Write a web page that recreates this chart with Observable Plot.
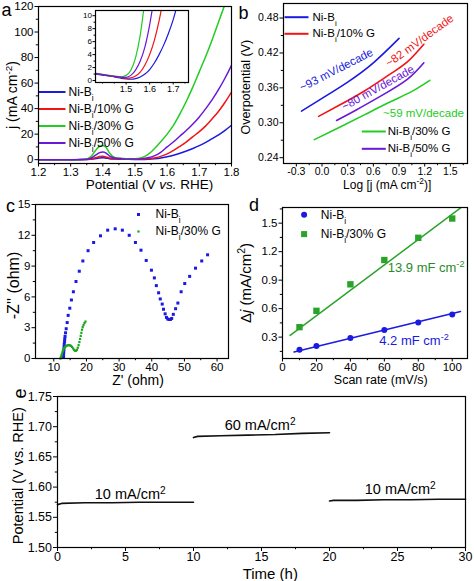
<!DOCTYPE html>
<html><head><meta charset="utf-8">
<script src="https://cdn.jsdelivr.net/npm/d3@7"></script>
<script src="https://cdn.jsdelivr.net/npm/@observablehq/plot@0.6"></script>
<style>
html,body{margin:0;padding:0;background:#fff;}
#fig{position:relative;width:474px;height:581px;overflow:hidden;background:#fff;}
</style></head><body><div id="fig"></div>
<script>
// ---------------- data ----------------
const seriesNames = ["Ni-B{_i}", "Ni-B{_i}/10% G", "Ni-B{_i}/30% G", "Ni-B{_i}/50% G"];
const blue = "#1a1ae0", red = "#f01414", green = "#22cc22", purple = "#6a18d8";
const greenC = "#1fa51f", greenD = "#2aa32a", greenDText = "#2a8a2a";

// (a) LSV curves
const lsvV    = [1.20,1.25,1.30,1.34,1.36,1.38,1.39,1.40,1.41,1.42,1.44,1.46,1.48,1.50,1.52,1.54,1.56,1.58,1.60,1.62,1.64,1.66,1.68,1.70,1.72,1.74,1.76,1.78,1.80];
const lsvNiBi = [0,0,0,0.05,0.3,0.9,1.3,1.5,1.2,0.8,0.5,0.35,0.25,0.2,0.2,0.35,0.7,1.3,2.3,3.5,5.0,6.8,8.8,11.0,13.5,16.5,19.5,23.0,27.0];
const lsv10   = [0,0,0,0.05,0.4,1.7,2.4,2.6,2.1,1.3,0.7,0.5,0.4,0.35,0.4,0.7,1.3,2.6,4.5,7.2,10.5,14.0,18.0,22.0,26.5,32.0,38.0,45.0,53.0];
const lsv30   = [0,0,0,0.2,1.8,8.0,10.5,11.2,9.8,5.5,1.5,1.0,0.7,0.8,1.6,4.0,8.5,14.0,20.0,27.0,36.0,46.0,57.0,69.0,81.0,94.0,108.0,122.0,null];
const lsv50   = [0,0,0,0.1,0.9,4.0,5.5,6.0,5.2,3.0,1.2,0.8,0.6,0.5,0.8,1.5,3.0,5.8,10.0,14.0,18.5,23.0,28.0,33.5,40.0,47.0,55.0,64.0,74.0];
const aXTicks = [1.2,1.3,1.4,1.5,1.6,1.7,1.8], aXMinor = [1.25,1.35,1.45,1.55,1.65,1.75];
const aYTicks = [0,20,40,60,80,100,120], aYMinor = [10,30,50,70,90,110];

// (a) inset
const insetV    = [1.37,1.40,1.43,1.46,1.48,1.50,1.52,1.54,1.56,1.58,1.60,1.62,1.64,1.66,1.68,1.70,1.72];
const insetNiBi = [1.0,0.85,0.7,0.5,0.35,0.25,0.2,0.3,0.55,1.0,1.7,2.7,4.0,5.5,7.3,9.4,12.0];
const inset10   = [1.05,0.9,0.7,0.55,0.45,0.35,0.4,0.7,1.3,2.4,4.0,6.2,9.2,13.0,null,null,null];
const inset30   = [1.1,0.95,0.8,0.65,0.6,0.8,1.6,3.5,7.0,12.5,null,null,null,null,null,null,null];
const inset50   = [1.1,0.9,0.75,0.6,0.5,0.5,0.8,1.6,3.0,5.2,8.6,13.0,null,null,null,null,null];
const inXTicks = [1.5,1.6,1.7], inXMinor = [1.4,1.45,1.55,1.65,1.75];
const inYTicks = [0,2,4,6,8,10], inYMinor = [1,3,5,7,9];

// (b) Tafel
const tafelNiBiX = [-0.24,0.0,0.3,0.6,0.9],        tafelNiBiY = [0.320,0.342,0.370,0.403,0.445];
const tafel10X   = [-0.04,0.2,0.5,0.8,1.0,1.19],   tafel10Y   = [0.311,0.330,0.355,0.384,0.405,0.435];
const tafel30X   = [-0.09,0.2,0.5,0.8,1.05,1.26],  tafel30Y   = [0.271,0.292,0.314,0.336,0.354,0.373];
const tafel50X   = [0.17,0.4,0.7,1.0,1.19],        tafel50Y   = [0.304,0.322,0.347,0.375,0.403];
const slopeLabels = ["~93 mV/decade","~82 mV/decade","~80 mV/decade","~59 mV/decade"];
const slopeX = [0.167,1.141,0.654,1.186], slopeY = [0.391,0.441,0.360,0.317], slopeAngle = [-27,-36,-29,0];
const bXTicks = [-0.3,0.0,0.3,0.6,0.9,1.2,1.5], bXMinor = [-0.15,0.15,0.45,0.75,1.05,1.35,1.65];
const bYTicks = [0.24,0.30,0.36,0.42,0.48], bYMinor = [0.27,0.33,0.39,0.45];

// (c) Nyquist
const cNiBiX = [13.0,13.0,13.05,13.1,13.15,13.2,13.3,13.35,13.45,13.6,13.8,14.1,14.4,14.9,15.4,16.0,16.8,17.8,18.9,20.5,22.2,24.3,26.5,28.8,31.0,33.1,35.0,36.7,38.3,39.9,40.8,41.4,42.1,42.6,43.2,43.6,44.1,44.5,44.9,45.3,45.7,46.1,46.6,47.3,48.0,49.0,50.1,51.6,53.4,55.3,57.1];
const cNiBiY = [0.15,0.4,0.65,0.9,1.15,1.4,1.65,1.9,2.15,2.5,2.9,3.5,4.2,4.9,5.7,6.5,7.5,8.5,9.5,10.5,11.3,11.95,12.5,12.63,12.5,12.0,11.3,10.55,9.55,8.6,7.85,7.1,6.4,5.8,5.3,4.8,4.35,4.0,3.85,3.8,3.8,3.9,4.3,4.85,5.4,6.5,7.3,8.0,8.8,9.5,10.1];
const c30X = [12.05,12.2,12.35,12.5,12.65,12.8,13.0,13.2,13.5,13.8,14.1,14.4,14.7,15.0,15.3,15.6,15.9,16.2,16.5,16.8,17.1,17.35,17.6,17.85,18.05,18.25,18.45,18.65,18.85,19.1,19.4,19.7];
const c30Y = [0.0,0.15,0.3,0.45,0.6,0.75,0.9,1.02,1.13,1.22,1.27,1.3,1.3,1.28,1.22,1.12,0.98,0.85,0.75,0.75,0.85,1.05,1.3,1.6,1.9,2.2,2.5,2.8,3.05,3.25,3.45,3.6];
const cXTicks = [10,20,30,40,50,60], cXMinor = [15,25,35,45,55];
const cYTicks = [0,3,6,9,12,15], cYMinor = [1.5,4.5,7.5,10.5,13.5];

// (d) double-layer capacitance
const cvRate = [10,20,40,60,80,100];
const cvNiBi = [0.168,0.206,0.290,0.374,0.455,0.538];
const cv30   = [0.405,0.577,0.856,1.112,1.346,1.549];
const fitNiBiX = [6.8,104.9], fitNiBiY = [0.143,0.570];
const fit30X = [4.5,105.9],   fit30Y = [0.318,1.674];
const capLabels = ["13.9 mF cm{^-2}","4.2 mF cm{^-2}"], capX = [62,57], capY = [1.034,0.265];
const dXTicks = [0,20,40,60,80,100], dXMinor = [10,30,50,70,90];
const dYTicks = [0.3,0.6,0.9,1.2,1.5], dYMinor = [0.15,0.45,0.75,1.05,1.35,1.65];

// (e) chronopotentiometry
const eT1 = [0,0.3,2,4,6,8,10],       eV1 = [1.571,1.573,1.574,1.574,1.575,1.575,1.575];
const eT2 = [10,10.3,12,14,16,18,20], eV2 = [1.682,1.684,1.685,1.686,1.687,1.689,1.690];
const eT3 = [20,20.3,22,24,26,28,30], eV3 = [1.577,1.578,1.578,1.579,1.579,1.580,1.580];
const stepLabels = ["10 mA/cm{^2}","60 mA/cm{^2}","10 mA/cm{^2}"], stepT = [5.35,14.9,25.2], stepV = [1.588,1.7015,1.597];
const eXTicks = [0,5,10,15,20,25,30], eXMinor = [2.5,7.5,12.5,17.5,22.5,27.5];
const eYTicks = [1.50,1.55,1.60,1.65,1.70,1.75], eYMinor = [1.525,1.575,1.625,1.675,1.725];

// ---------------- helpers ----------------
const fig = document.getElementById("fig");
const STYLE = "font-family:'Liberation Sans',Arial,Helvetica,sans-serif;background:none;overflow:visible;color:#000;";
const f0 = d => String(d), f1 = d => d.toFixed(1), f2 = d => d.toFixed(2);
const lineSym = {draw(ctx, size) { const w = Math.sqrt(size / Math.PI); ctx.moveTo(-w, 0); ctx.lineTo(w, 0); }};

function axes(o) {
  const fs = o.fs ?? 12, ts = o.ts ?? 3.5, tp = o.tp ?? 1, ms = o.ms ?? 2.2;
  return [
    Plot.axisX({ticks: o.xTicks, tickFormat: o.xFmt, tickSize: ts, tickPadding: tp, fontSize: fs, label: null}),
    Plot.axisY({ticks: o.yTicks, tickFormat: o.yFmt, tickSize: ts, tickPadding: tp + 0.5, fontSize: o.yfs ?? fs, label: null}),
    Plot.axisX({ticks: o.xMinor, tickSize: ms, fill: "none", label: null}),
    Plot.axisY({ticks: o.yMinor, tickSize: ms, fill: "none", label: null})
  ];
}
function txt(s, anchor, dx, dy, o = {}) {
  return Plot.text([s], {frameAnchor: anchor, dx, dy, text: d => d, textAnchor: "middle", lineAnchor: "middle", fill: "black", ...o});
}
function legLine(color, label, dx, dy, tdx, r, fs) {
  return [Plot.dot([0], {frameAnchor: "top-left", dx, dy, symbol: lineSym, r, fill: "none", stroke: color, strokeWidth: 2}),
          txt(label, "top-left", tdx, dy, {textAnchor: "start", fontSize: fs})];
}
function legSym(color, label, dx, dy, tdx, symbol, r, fs) {
  return [Plot.dot([0], {frameAnchor: "top-left", dx, dy, symbol, r, fill: color, stroke: "none"}),
          txt(label, "top-left", tdx, dy, {textAnchor: "start", fontSize: fs})];
}
function rich(svg) {
  const NS = "http://www.w3.org/2000/svg";
  svg.querySelectorAll("text, tspan").forEach(el => {
    if (el.childElementCount) return;
    const s = el.textContent;
    if (!/\{[_^*]/.test(s)) return;
    el.textContent = "";
    const re = /\{([_^*])([^}]*)\}/g;
    let last = 0, m;
    while ((m = re.exec(s))) {
      if (m.index > last) el.appendChild(document.createTextNode(s.slice(last, m.index)));
      const t = document.createElementNS(NS, "tspan");
      if (m[1] === "_") { t.setAttribute("baseline-shift", "sub"); t.setAttribute("font-size", "70%"); }
      else if (m[1] === "^") { t.setAttribute("baseline-shift", "super"); t.setAttribute("font-size", "70%"); }
      else t.setAttribute("font-style", "italic");
      t.textContent = m[2];
      el.appendChild(t);
      last = re.lastIndex;
    }
    if (last < s.length) el.appendChild(document.createTextNode(s.slice(last)));
  });
}
function place(p, left, top) {
  p.style.position = "absolute"; p.style.left = left + "px"; p.style.top = top + "px";
  fig.appendChild(p); rich(p);
}

// ---------------- (a) ----------------
const aSeries = [lsvNiBi, lsv10, lsv30, lsv50], aColors = [blue, red, green, purple];
const aLayout = {width: 236, height: 192, marginLeft: 38, marginRight: 5, marginTop: 6, marginBottom: 29};
const plotA = Plot.plot({
  ...aLayout,
  x: {domain: [1.2, 1.8]}, y: {domain: [-3, 120]}, style: STYLE,
  marks: [
    ...axes({xTicks: aXTicks, xMinor: aXMinor, xFmt: f1, yTicks: aYTicks, yMinor: aYMinor, yFmt: f0, fs: 11.5}),
    ...aSeries.map((ys, i) => Plot.line(lsvV, {x: lsvV, y: ys, stroke: aColors[i], strokeWidth: 1.5, curve: "monotone-x", clip: true})),
    ...[0,1,2,3].flatMap(i => legLine(aColors[i], seriesNames[i], 13.5, 85.5 + 17 * i, 30, 13.5, 12)),
    txt("Potential (V {*vs.} RHE)", "bottom", 14.5, 21, {fontSize: 13.5}),
    txt("j (mA cm{^-2})", "left", -26, 10, {fontSize: 14, rotate: -90}),
    txt("a", "top-left", -32, 3.5, {fontSize: 18})
  ]
});
place(plotA, 0, 0);

// inset
const inSeries = [insetNiBi, inset10, inset30, inset50];
const plotIn = Plot.plot({
  width: 112, height: 92, marginLeft: 15, marginRight: 4, marginTop: 6, marginBottom: 14,
  x: {domain: [1.37, 1.765]}, y: {domain: [-0.3, 10.8]}, style: STYLE,
  marks: [
    ...axes({xTicks: inXTicks, xMinor: inXMinor, xFmt: f1, yTicks: inYTicks, yMinor: inYMinor, yFmt: f0, fs: 9, yfs: 8, ts: 2.5, tp: 0.5, ms: 1.5}),
    ...inSeries.map((ys, i) => Plot.line(insetV, {x: insetV, y: ys, stroke: aColors[i], strokeWidth: 1.2, curve: "monotone-x", clip: true})),
    Plot.frame({strokeWidth: 1.2})
  ]
});
place(plotIn, 80, 4);

// ---------------- (b) ----------------
const bSeries = [[tafelNiBiX, tafelNiBiY], [tafel10X, tafel10Y], [tafel30X, tafel30Y], [tafel50X, tafel50Y]];
const plotB = Plot.plot({
  width: 238, height: 192, marginLeft: 47, marginRight: 7, marginTop: 3, marginBottom: 29,
  x: {domain: [-0.45, 1.7]}, y: {domain: [0.23, 0.505]}, style: STYLE,
  marks: [
    ...axes({xTicks: bXTicks, xMinor: bXMinor, xFmt: f1, yTicks: bYTicks, yMinor: bYMinor, yFmt: f2, fs: 10.5}),
    ...bSeries.map(([xs, ys], i) => Plot.line(xs, {x: xs, y: ys, stroke: aColors[i], strokeWidth: 1.6, curve: "natural"})),
    ...slopeLabels.map((s, i) => Plot.text([s], {x: [slopeX[i]], y: [slopeY[i]], text: d => d, rotate: slopeAngle[i], fill: [blue, red, purple, green][i], fontSize: 11.5, textAnchor: "middle", lineAnchor: "middle"})),
    ...legLine(blue, seriesNames[0], 13, 13.7, 29, 12, 11.5),
    ...legLine(red, seriesNames[1], 13, 30.3, 29, 12, 11.5),
    ...legLine(green, seriesNames[2], 90.3, 128, 104.3, 12, 11.5),
    ...legLine(purple, seriesNames[3], 90.3, 145.3, 104.3, 12, 11.5),
    txt("Log [j (mA cm{^-2})]", "bottom", 11.7, 22, {fontSize: 12}),
    txt("Overpotential (V)", "left", -38, 3.7, {fontSize: 12.5, rotate: -90}),
    txt("b", "top-left", -40, 10, {fontSize: 18}),
    Plot.frame({strokeWidth: 1.2})
  ]
});
place(plotB, 236, 0);

// ---------------- (c) ----------------
const plotC = Plot.plot({
  width: 236, height: 196, marginLeft: 35, marginRight: 8, marginTop: 14, marginBottom: 28,
  x: {domain: [4.4, 63.5]}, y: {domain: [0, 15]}, style: STYLE,
  marks: [
    ...axes({xTicks: cXTicks, xMinor: cXMinor, xFmt: f0, yTicks: cYTicks, yMinor: cYMinor, yFmt: f0, fs: 11.5}),
    Plot.dot(cNiBiX, {x: cNiBiX, y: cNiBiY, symbol: "square", r: 1.7, fill: blue, stroke: "none"}),
    Plot.dot(c30X, {x: c30X, y: c30Y, symbol: "square", r: 1.25, fill: greenC, stroke: "none"}),
    ...legSym(blue, seriesNames[0], 103, 10, 120, "square", 1.7, 12),
    ...legSym(greenC, seriesNames[2], 103, 27, 120, "square", 1.25, 12),
    txt("Z' (ohm)", "bottom", 6, 22.5, {fontSize: 14}),
    txt("-Z'' (ohm)", "left", -22, 4, {fontSize: 16, rotate: -90}),
    txt("c", "top-left", -25, 2, {fontSize: 18}),
    Plot.frame({strokeWidth: 1.2})
  ]
});
place(plotC, 0, 190);

// ---------------- (d) ----------------
const plotD = Plot.plot({
  width: 238, height: 196, marginLeft: 46, marginRight: 7, marginTop: 17, marginBottom: 28,
  x: {domain: [0, 109]}, y: {domain: [0.075, 1.665]}, style: STYLE,
  marks: [
    ...axes({xTicks: dXTicks, xMinor: dXMinor, xFmt: f0, yTicks: dYTicks, yMinor: dYMinor, yFmt: f1, fs: 11.5}),
    Plot.line(fitNiBiX, {x: fitNiBiX, y: fitNiBiY, stroke: blue, strokeWidth: 1.5, clip: true}),
    Plot.line(fit30X, {x: fit30X, y: fit30Y, stroke: greenD, strokeWidth: 1.5, clip: true}),
    Plot.dot(cvRate, {x: cvRate, y: cvNiBi, r: 3, fill: blue, stroke: "none"}),
    Plot.dot(cvRate, {x: cvRate, y: cv30, symbol: "square", r: 3.6, fill: greenD, stroke: "none"}),
    Plot.text([capLabels[0]], {x: [capX[0]], y: [capY[0]], text: d => d, fill: greenDText, fontSize: 13, textAnchor: "start", lineAnchor: "middle"}),
    Plot.text([capLabels[1]], {x: [capX[1]], y: [capY[1]], text: d => d, fill: blue, fontSize: 13, textAnchor: "start", lineAnchor: "middle"}),
    ...legSym(blue, seriesNames[0], 21.6, 7.3, 38.3, "circle", 3, 12),
    ...legSym(greenD, seriesNames[2], 21.6, 26.6, 38.3, "square", 3.4, 12),
    txt("Scan rate (mV/s)", "bottom", 5.7, 21.5, {fontSize: 12.5}),
    txt("Δ{*j} (mA/cm{^2})", "left", -36.7, 0, {fontSize: 15, rotate: -90}),
    txt("d", "top-left", -28.4, -2, {fontSize: 18}),
    Plot.frame({strokeWidth: 1.2})
  ]
});
place(plotD, 236, 190);

// ---------------- (e) ----------------
const plotE = Plot.plot({
  width: 474, height: 195, marginLeft: 57, marginRight: 9, marginTop: 10, marginBottom: 34,
  x: {domain: [0, 30]}, y: {domain: [1.5, 1.75]}, style: STYLE,
  marks: [
    ...axes({xTicks: eXTicks, xMinor: eXMinor, xFmt: f0, yTicks: eYTicks, yMinor: eYMinor, yFmt: f2, fs: 12.5, ts: 4, tp: 1}),
    Plot.line(eT1, {x: eT1, y: eV1, stroke: "#111", strokeWidth: 1.6}),
    Plot.line(eT2, {x: eT2, y: eV2, stroke: "#111", strokeWidth: 1.6}),
    Plot.line(eT3, {x: eT3, y: eV3, stroke: "#111", strokeWidth: 1.6}),
    Plot.text(stepLabels, {x: stepT, y: stepV, text: d => d, fontSize: 14.5, fill: "black", textAnchor: "middle", lineAnchor: "middle"}),
    txt("Time (h)", "bottom", 8.8, 26.5, {fontSize: 15}),
    txt("Potential (V vs. RHE)", "left", -39, 3.7, {fontSize: 14.5, rotate: -90}),
    txt("e", "top-left", -37.5, -3, {fontSize: 18, rotate: -90}),
    Plot.frame({strokeWidth: 1.2})
  ]
});
place(plotE, 0, 386);

// frame for (a) on top of the curves
const frameA = Plot.plot({
  ...aLayout,
  x: {domain: [1.2, 1.8], axis: null}, y: {domain: [-3, 120], axis: null}, style: STYLE + "pointer-events:none;",
  marks: [Plot.frame({strokeWidth: 1.2})]
});
place(frameA, 0, 0);
</script></body></html>
